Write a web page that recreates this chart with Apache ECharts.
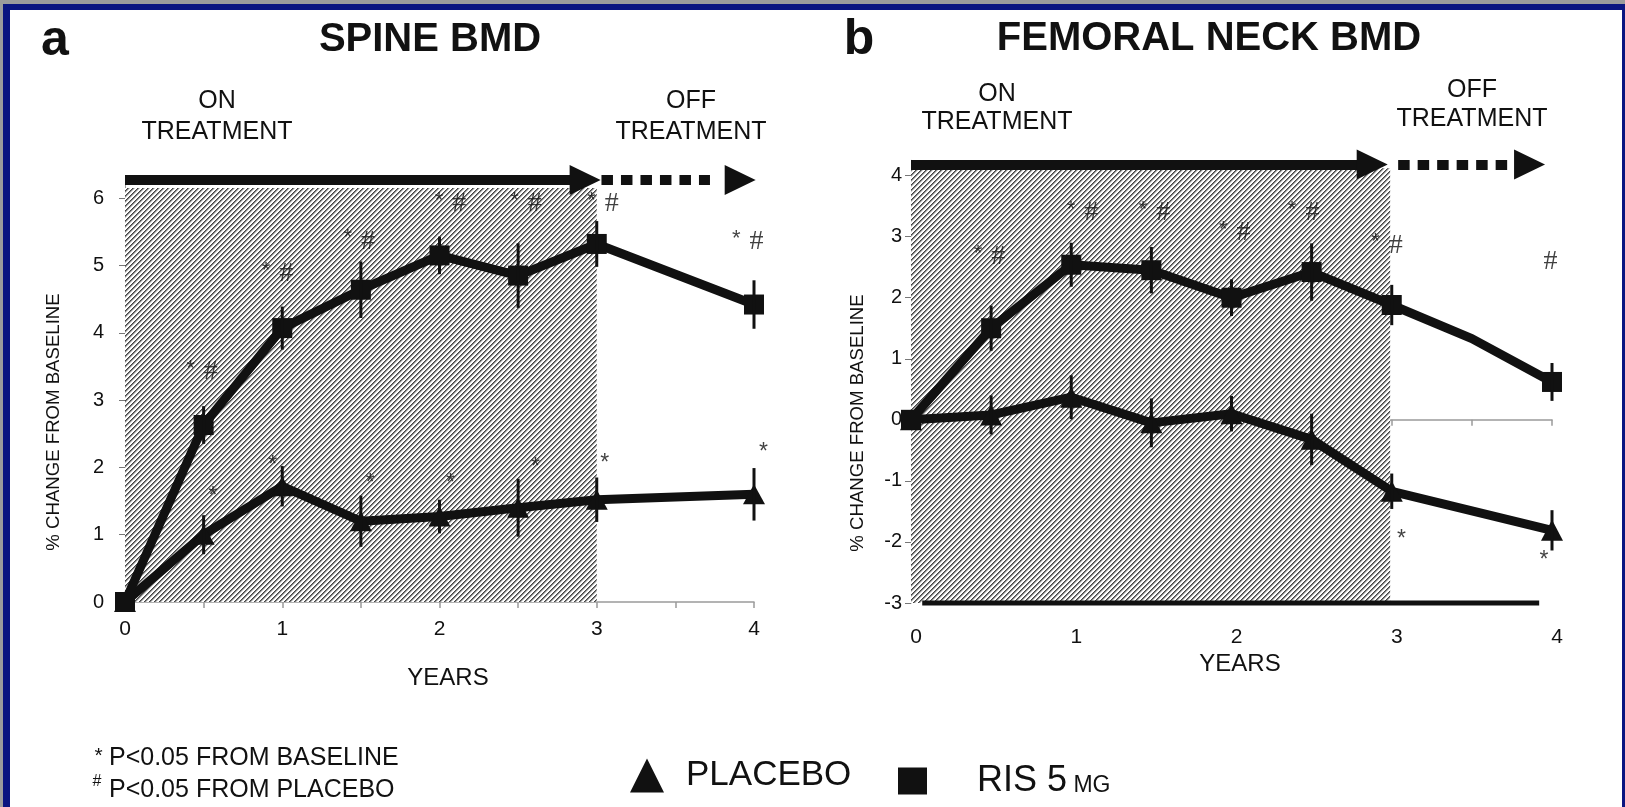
<!DOCTYPE html>
<html><head><meta charset="utf-8">
<script src="https://cdn.jsdelivr.net/npm/echarts@6/dist/echarts.min.js"></script>
<style>
html,body{margin:0;padding:0;background:#fff;overflow:hidden;}
#chart{position:absolute;left:0;top:0;width:1625px;height:807px;}
.f{position:absolute;pointer-events:none;}
</style></head><body>
<div id="chart"></div>
<div class="f" style="left:0;top:0;width:1625px;height:4px;background:#9c9c9c"></div>
<div class="f" style="left:0;top:0;width:3px;height:807px;background:#9c9c9c"></div>
<div class="f" style="left:3px;top:4px;width:1622px;height:6px;background:#0b1580"></div>
<div class="f" style="left:3px;top:4px;width:7px;height:803px;background:#0b1580"></div>
<div class="f" style="left:1622px;top:4px;width:3px;height:803px;background:#0b1580"></div>
<script>
// ---------- DATA ----------
const years = [0, 0.5, 1, 1.5, 2, 2.5, 3, 4];
const xTickLabels = [0, 1, 2, 3, 4];
const spineTickLabels = [0, 1, 2, 3, 4, 5, 6];
const femurTickLabels = [-3, -2, -1, 0, 1, 2, 3, 4];

const spinePlacebo    = [0, 1.00, 1.72, 1.20, 1.27, 1.40, 1.52, 1.60];
const spinePlaceboErr = [0, 0.29, 0.30, 0.38, 0.25, 0.43, 0.33, 0.39];
const spineRis        = [0, 2.63, 4.07, 4.64, 5.15, 4.85, 5.32, 4.42];
const spineRisErr     = [0, 0.28, 0.32, 0.42, 0.28, 0.48, 0.34, 0.36];

const femurPlacebo    = [0, 0.08, 0.37, -0.05, 0.10, -0.32, -1.17, -1.81];
const femurPlaceboErr = [0, 0.32, 0.36, 0.40, 0.29, 0.42, 0.29, 0.33];
const femurRisYears   = [0, 0.5, 1, 1.5, 2, 2.5, 3, 3.5, 4];
const femurRis        = [0, 1.50, 2.54, 2.45, 2.00, 2.42, 1.88, 1.33, 0.62];
const femurRisErr     = [0, 0.37, 0.36, 0.38, 0.30, 0.47, 0.33, 0, 0.31];
const femurRisNoMarker = [3.5];

// significance notes: [year, value, text]
const spineRisNotes = [[0.49,3.42,'*#'],[0.97,4.88,'*#'],[1.49,5.36,'*#'],[2.07,5.92,'*#'],[2.55,5.92,'*#'],[3.04,5.92,'*#'],[3.96,5.35,'*#']];
const spinePlaceboNotes = [[0.56,1.65,'*'],[0.94,2.11,'*'],[1.56,1.85,'*'],[2.07,1.85,'*'],[2.61,2.08,'*'],[3.05,2.15,'*'],[4.06,2.31,'*']];
const femurRisNotes = [[0.49,2.67,'*#'],[1.07,3.39,'*#'],[1.52,3.39,'*#'],[2.02,3.06,'*#'],[2.45,3.39,'*#'],[2.97,2.86,'*#'],[3.99,2.59,'#']];
const femurPlaceboNotes = [[3.06,-1.87,'*'],[3.95,-2.21,'*']];

// treatment period (years) and bottom bar of panel b
const onTreatment = [0, 3];
const femurBaseBar = [[0.07, -3], [3.92, -3]];

// ---------- STYLE ----------
const FONT = "'Liberation Sans', Arial, Helvetica, sans-serif";
const SERIF = "'Liberation Serif', 'DejaVu Serif', serif";
const INK = '#111111';
const isInt = v => Math.abs(v - Math.round(v)) < 1e-6;

function hatchPattern() {
  const n = 5, c = document.createElement('canvas');
  c.width = n; c.height = n;
  const ctx = c.getContext('2d');
  const img = ctx.createImageData(n, n);
  const shades = [68, 128, 208, 255, 255];
  for (let y = 0; y < n; y++) for (let x = 0; x < n; x++) {
    const v = shades[(x + y) % n], k = (y * n + x) * 4;
    img.data[k] = img.data[k + 1] = img.data[k + 2] = v; img.data[k + 3] = 255;
  }
  ctx.putImageData(img, 0, 0);
  return c;
}
const HATCH = { image: hatchPattern(), repeat: 'repeat' };

function xAxisOpt(gridIndex, labelMargin, labelPad) {
  return {
    type: 'value', gridIndex, min: 0, max: 4, interval: 0.5,
    axisLine: { show: gridIndex === 0, onZero: gridIndex === 0, lineStyle: { color: '#9a9a9a', width: 1.5 } },
    axisTick: { show: gridIndex === 0, length: 6, customValues: [0.5,1,1.5,2,2.5,3,3.5,4], lineStyle: { color: '#9a9a9a', width: 1.5 } },
    splitLine: { show: false },
    axisLabel: { customValues: xTickLabels, formatter: v => isInt(v) ? String(Math.round(v)) : '',
      margin: labelMargin, fontSize: 21, fontFamily: FONT, color: INK, padding: labelPad }
  };
}
function yAxisOpt(gridIndex, min, max, labels, margin) {
  return {
    type: 'value', gridIndex, min, max,
    axisLine: { show: true, lineStyle: { color: '#9a9a9a', width: 1 } },
    axisTick: { show: true, length: 6, customValues: labels, lineStyle: { color: '#777', width: 1 } },
    splitLine: { show: false },
    axisLabel: { customValues: labels, formatter: v => isInt(v) ? String(Math.round(v)) : '',
      margin, fontSize: 20, fontFamily: FONT, color: INK }
  };
}
function lineSeries(name, xi, yi, xs, ys, symbol, size, extra) {
  return Object.assign({
    name, type: 'line', xAxisIndex: xi, yAxisIndex: yi, clip: false, z: 3, silent: true,
    data: xs.map((x, i) => femurRisNoMarker.includes(x) && xs === femurRisYears
      ? { value: [x, ys[i]], symbol: 'none' } : [x, ys[i]]),
    symbol, symbolSize: size, showAllSymbol: true,
    lineStyle: { color: INK, width: 9 },
    itemStyle: { color: INK, borderWidth: 0 }
  }, extra || {});
}
function errSeries(xi, yi, xs, ys, es) {
  const data = [];
  xs.forEach((x, i) => { if (es[i]) data.push([x, ys[i] - es[i], ys[i] + es[i]]); });
  return {
    type: 'custom', xAxisIndex: xi, yAxisIndex: yi, data, clip: false, silent: true, z: 4,
    encode: { x: 0, y: [1, 2] },
    renderItem: (params, api) => {
      const lo = api.coord([api.value(0), api.value(1)]);
      const hi = api.coord([api.value(0), api.value(2)]);
      return { type: 'line', shape: { x1: lo[0], y1: lo[1], x2: hi[0], y2: hi[1] },
        style: { stroke: INK, lineWidth: 3 } };
    }
  };
}
function noteSeries(xi, yi, notes, star) {
  return {
    type: 'scatter', xAxisIndex: xi, yAxisIndex: yi, silent: true, clip: false, z: 5,
    symbolSize: 1, itemStyle: { color: 'rgba(0,0,0,0)' },
    data: notes.map(n => ({ value: [n[0], n[1]], txt: n[2] })),
    label: {
      show: true, position: 'inside', color: INK, fontFamily: FONT,
      offset: star ? [0, 6] : [0, 0],
      formatter: p => p.data.txt === '*#' ? '{s|*}{h|#}' : (p.data.txt === '#' ? '{h|#}' : '{a|*}'),
      rich: {
        s: { fontSize: 22, color: INK, fontFamily: FONT, verticalAlign: 'top', padding: [0, 9, 0, 0] },
        h: { fontSize: 28, color: INK, fontFamily: SERIF },
        a: { fontSize: 23, color: INK, fontFamily: FONT }
      }
    }
  };
}
function arrows(y, solidEnd, dashFrom, dashEnd, headSolid, headDash) {
  return {
    markLine: {
      silent: true, symbol: ['none', 'none'], label: { show: false },
      data: [
        [{ coord: [0, y], lineStyle: { type: 'solid', width: 10, color: INK } }, { coord: [solidEnd, y] }],
        [{ coord: [dashFrom, y], lineStyle: { type: [11.5, 8], width: 10, color: INK, cap: 'butt' } }, { coord: [dashEnd, y] }]
      ]
    },
    markPoint: {
      silent: true, symbol: 'triangle', symbolSize: [30, 31], symbolRotate: -90,
      itemStyle: { color: INK }, label: { show: false },
      data: [{ coord: [headSolid, y] }, { coord: [headDash, y] }]
    }
  };
}

const chart = echarts.init(document.getElementById('chart'), null, { renderer: 'canvas' });

const txt = (x, y, text, size, bold, extra) => Object.assign({
  type: 'text', x, y, silent: true,
  style: { text, font: (bold ? 'bold ' : '') + size + 'px ' + FONT, fill: INK,
    align: 'center', verticalAlign: 'middle', textAlign: 'center', textVerticalAlign: 'middle' }
}, extra || {});

const option = {
  animation: false,
  backgroundColor: '#ffffff',
  grid: [
    { left: 125, top: 178, width: 629, height: 424 },
    { left: 911, top: 160.3, width: 641, height: 442.7 }
  ],
  xAxis: [
    xAxisOpt(0, 17, [0, 0, 0, 0]),
    Object.assign(xAxisOpt(1, 24, [0, 0, 0, 10]), { position: 'bottom', axisLine: { show: false, onZero: false } }),
    {
      type: 'value', gridIndex: 1, min: 0, max: 4, position: 'top',
      axisLine: { show: true, onZero: true, lineStyle: { color: '#9a9a9a', width: 1.5 } },
      axisTick: { show: true, inside: true, length: 6, customValues: [0.5,1,1.5,2,2.5,3,3.5,4], lineStyle: { color: '#9a9a9a', width: 1.5 } },
      axisLabel: { show: false }, splitLine: { show: false }
    }
  ],
  yAxis: [
    yAxisOpt(0, 0, 6.3, spineTickLabels, 21),
    yAxisOpt(1, -3, 4.25, femurTickLabels, 9)
  ],
  legend: [
    {
      data: ['PLACEBO'], left: 630, top: 758, padding: 0, itemWidth: 34, itemHeight: 34,
      icon: 'triangle', selectedMode: false, itemStyle: { color: INK, borderWidth: 0 },
      formatter: () => '{g|}{b|PLACEBO}',
      textStyle: { color: INK, fontFamily: FONT, fontSize: 35,
        rich: { g: { width: 17 }, b: { fontSize: 35, color: INK, fontFamily: FONT } } }
    },
    {
      data: ['RIS 5 MG'], left: 898, top: 763, padding: 0, itemWidth: 29, itemHeight: 27,
      icon: 'rect', selectedMode: false, itemStyle: { color: INK, borderWidth: 0 },
      formatter: () => '{g|}{b|RIS 5}{sc| MG}',
      textStyle: { color: INK, fontFamily: FONT, fontSize: 35,
        rich: {
          g: { width: 45 },
          b: { fontSize: 36, color: INK, fontFamily: FONT, verticalAlign: 'bottom' },
          sc: { fontSize: 23, color: INK, fontFamily: FONT, verticalAlign: 'bottom', padding: [0, 0, 2, 0] }
        } }
    }
  ],
  graphic: [
    txt(55, 41, 'a', 50, true),
    txt(430, 40, 'SPINE BMD', 40, true),
    txt(859, 40, 'b', 50, true),
    txt(1209, 39, 'FEMORAL NECK BMD', 40, true),
    txt(217, 101, 'ON', 25), txt(217, 132, 'TREATMENT', 25),
    txt(691, 101, 'OFF', 25), txt(691, 132, 'TREATMENT', 25),
    txt(997, 94, 'ON', 25), txt(997, 122, 'TREATMENT', 25),
    txt(1472, 90, 'OFF', 25), txt(1472, 119, 'TREATMENT', 25),
    txt(54, 422, '% CHANGE FROM BASELINE', 18.6, false, { rotation: Math.PI / 2 }),
    txt(858, 423, '% CHANGE FROM BASELINE', 18.6, false, { rotation: Math.PI / 2 }),
    txt(448, 678, 'YEARS', 24), txt(1240, 664, 'YEARS', 24),
    txt(98.5, 756, '*', 21), txt(97, 782, '#', 16),
    { type: 'text', x: 109, y: 758.5, silent: true, style: { text: 'P<0.05 FROM BASELINE', font: '25px ' + FONT, fill: INK, align: 'left', verticalAlign: 'middle', textAlign: 'left', textVerticalAlign: 'middle' } },
    { type: 'text', x: 109, y: 790, silent: true, style: { text: 'P<0.05 FROM PLACEBO', font: '25px ' + FONT, fill: INK, align: 'left', verticalAlign: 'middle', textAlign: 'left', textVerticalAlign: 'middle' } }
  ],
  series: [
    lineSeries('PLACEBO', 0, 0, years, spinePlacebo, 'triangle', [22, 20], Object.assign({
      markArea: { silent: true, itemStyle: { color: HATCH, opacity: 1 }, data: [[{ coord: [onTreatment[0], 0] }, { coord: [onTreatment[1], 6.15] }]] }
    }, arrows(6.27, 2.93, 3.03, 3.72, 2.926, 3.912))),
    lineSeries('RIS 5 MG', 0, 0, years, spineRis, 'rect', 20),
    errSeries(0, 0, years, spinePlacebo, spinePlaceboErr),
    errSeries(0, 0, years, spineRis, spineRisErr),
    noteSeries(0, 0, spineRisNotes, false),
    noteSeries(0, 0, spinePlaceboNotes, true),

    lineSeries('PLACEBO', 1, 1, years, femurPlacebo, 'triangle', [22, 21], Object.assign({
      markArea: { silent: true, itemStyle: { color: HATCH, opacity: 1 }, data: [[{ coord: [onTreatment[0], -3] }, { coord: [onTreatment[1] - 0.01, 4.12] }]] }
    }, arrows(4.18, 2.88, 3.04, 3.73, 2.878, 3.86))),
    lineSeries('RIS 5 MG', 1, 1, femurRisYears, femurRis, 'rect', 20),
    errSeries(1, 1, years, femurPlacebo, femurPlaceboErr),
    errSeries(1, 1, femurRisYears, femurRis, femurRisErr),
    noteSeries(1, 1, femurRisNotes, false),
    noteSeries(1, 1, femurPlaceboNotes, true),
    {
      type: 'line', xAxisIndex: 1, yAxisIndex: 1, data: femurBaseBar, symbol: 'none', clip: false, silent: true,
      lineStyle: { color: INK, width: 5 }, z: 2
    }
  ]
};
option.series[0].markArea.z = 1;
option.series[6].markArea.z = 1;
chart.setOption(option);
</script>
</body></html>
